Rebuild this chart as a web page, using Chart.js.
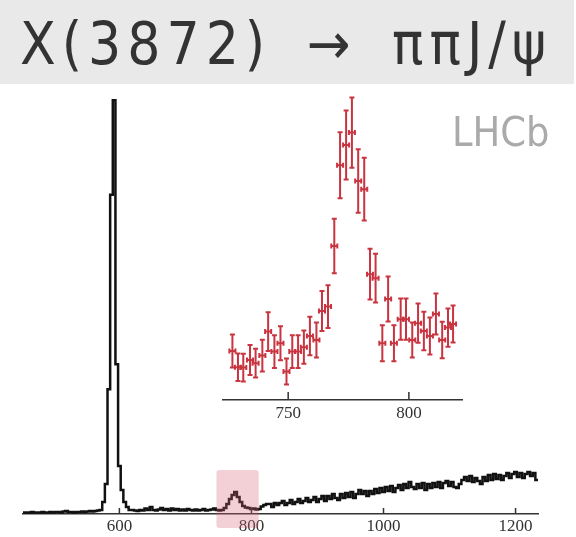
<!DOCTYPE html>
<html>
<head>
<meta charset="utf-8">
<script src="https://cdn.jsdelivr.net/npm/chart.js@4.4.1/dist/chart.umd.min.js"></script>
<style>
  html, body { margin: 0; padding: 0; background: #fff; }
  #wrap { position: relative; width: 576px; height: 537px; overflow: hidden; }
  canvas { position: absolute; left: 0; top: 0; }
  #title {
    position: absolute; left: 0; top: 0; width: 574px; height: 84px;
    background: #e9e9e9; color: #333; box-sizing: border-box;
    padding: 15px 0 0 20px; white-space: nowrap;
    font-family: "DejaVu Sans Condensed", "DejaVu Sans", sans-serif; font-stretch: condensed;
    font-size: 58px; line-height: 58px; letter-spacing: 6px; word-spacing: 13px;
  }
  #lhcb {
    position: absolute; left: 452px; top: 112px; color: #aaa;
    font-family: "DejaVu Sans Condensed", "DejaVu Sans", sans-serif; font-stretch: condensed;
    font-size: 41px; line-height: 41px;
  }
</style>
</head>
<body>
<div id="wrap">
  <canvas id="main" width="576" height="537"></canvas>
  <canvas id="inset" width="576" height="537"></canvas>
  <div id="title">X(3872) → ππJ/ψ</div>
  <div id="lhcb">LHCb</div>
</div>
<script>
// main histogram: m(ππ) in 4 MeV bins starting at 454 MeV
const binLow = 454;
const binWidth = 4;
const counts = [
  1.5, 1.5, 1.5, 2, 1.5, 1.5, 1.5, 2, 1.5, 1.5,
  2, 1.5, 2, 2, 1.5, 2.5, 3, 2, 2, 1.5,
  2, 2, 2.5, 2, 2.5, 3, 2.5, 3, 3.5,
  // peak 570-614
  4, 12, 30, 125, 320, 415, 150, 48, 24, 12, 7, 4,
  // 618-746
  4, 3.5, 3, 4, 3.5, 5.5, 4, 7, 4, 3.5,
  4.5, 6, 4, 5, 3.5, 5.5, 4, 5, 3.5, 4.5,
  3.5, 5, 4, 3.5, 4.5, 3.5, 4, 5, 3.5, 4,
  4.5, 5.5, 4,
  // 750-822
  3.5, 4, 6, 10, 15, 19, 22, 17, 12, 8,
  6.5, 6, 5, 5.5, 4.5, 5, 7.5, 9, 10,
  // 826-1230
  10, 7, 11, 9, 11, 13, 9, 11, 14, 10,
  12, 15, 11, 13, 16, 12, 14, 17, 12, 15,
  18, 13, 18, 15, 20, 16, 14, 20, 16, 21,
  17, 22, 16, 20, 24, 20, 23, 18, 23, 20,
  25, 21, 26, 22, 27, 23, 28, 22, 26, 29,
  24, 30, 26, 32, 27, 25, 30, 26, 31, 24,
  30, 26, 31, 27, 32, 26, 31, 33, 28, 32,
  27, 26, 30, 34, 37, 33, 38, 32, 36, 33,
  30, 37, 33, 39, 34, 40, 35, 39, 34, 38,
  41, 36, 40, 42, 37, 41, 36, 40, 42, 38,
  41, 34
];
const mainTicks = [600, 800, 1000, 1200];
const bandRange = [747, 811];

// inset: zoom on the 775 MeV region
const insetMass = [
  726.9, 729.2, 731.4, 734.2, 736.5, 739.3, 741.7, 744.3, 746.8, 749.3,
  751.7, 754.1, 756.5, 759.0, 761.7, 764.0, 766.5, 769.1, 771.5, 774.0,
  776.4, 779.0, 781.5, 783.9, 786.2, 789.0, 791.4, 793.8, 796.6, 798.8,
  801.4, 803.8, 806.2, 808.7, 811.2, 813.8, 816.2, 818.3
];
const insetCount = [
  24.5, 16.4, 16.2, 20, 18.4, 22.2, 34.2, 24.2, 28.4, 14.2,
  24.2, 24.2, 26.4, 32, 30, 44.5, 46.7, 77, 117.4, 127.5,
  133.7, 109.5, 105.4, 62.9, 60.9, 28.4, 50.5, 28.4, 40.4, 40.4,
  30, 38.4, 34.5, 32, 43, 30, 36.2, 38
];
const insetErr = [
  8.2, 6.9, 6.9, 7.5, 7.2, 7.9, 9.7, 8.2, 8.5, 6.5,
  8.2, 8.2, 8.3, 9.6, 8.8, 10, 10.7, 13.6, 16.5, 17.2,
  17.6, 15.9, 15.7, 12.7, 12.2, 9, 11.3, 9, 10.3, 10.3,
  8.7, 9.8, 9.6, 9.2, 10.3, 9.1, 9.6, 9.3
];
const insetTicks = [750, 800];
const halfBin = 1.25;

const histPoints = counts.map((c, i) => ({ x: binLow + i * binWidth, y: c }));
histPoints.push({ x: binLow + counts.length * binWidth, y: counts[counts.length - 1] });

const serif = '"Liberation Serif", "DejaVu Serif", serif';

function drawTicks(chart, values, len) {
  const { ctx, scales: { x }, chartArea } = chart;
  ctx.save();
  ctx.strokeStyle = '#333';
  ctx.lineWidth = 1.5;
  ctx.beginPath();
  values.forEach(v => {
    const px = x.getPixelForValue(v);
    ctx.moveTo(px, chartArea.bottom);
    ctx.lineTo(px, chartArea.bottom - len);
  });
  ctx.stroke();
  ctx.restore();
}

const mainDecor = {
  id: 'mainDecor',
  afterDatasetsDraw(chart) {
    const { ctx, scales: { x, y } } = chart;
    drawTicks(chart, mainTicks, 6);
    // highlighted region
    const l = x.getPixelForValue(bandRange[0]);
    const r = x.getPixelForValue(bandRange[1]);
    const t = y.getPixelForValue(44);
    const b = y.getPixelForValue(-14);
    ctx.save();
    ctx.fillStyle = 'rgba(212, 100, 118, 0.3)';
    ctx.beginPath();
    ctx.roundRect(l, t, r - l, b - t, 3);
    ctx.fill();
    ctx.restore();
  }
};

const errorBars = {
  id: 'errorBars',
  afterDatasetsDraw(chart) {
    const { ctx, scales: { x, y } } = chart;
    drawTicks(chart, insetTicks, 8);
    ctx.save();
    ctx.strokeStyle = '#c8343f';
    ctx.lineWidth = 2;
    insetMass.forEach((m, i) => {
      const px = x.getPixelForValue(m);
      const py = y.getPixelForValue(insetCount[i]);
      const top = y.getPixelForValue(insetCount[i] + insetErr[i]);
      const bot = y.getPixelForValue(insetCount[i] - insetErr[i]);
      const l = x.getPixelForValue(m - halfBin);
      const r = x.getPixelForValue(m + halfBin);
      ctx.beginPath();
      ctx.moveTo(px, top); ctx.lineTo(px, bot);
      ctx.moveTo(px - 2.5, top); ctx.lineTo(px + 2.5, top);
      ctx.moveTo(px - 2.5, bot); ctx.lineTo(px + 2.5, bot);
      ctx.moveTo(l, py); ctx.lineTo(r, py);
      ctx.moveTo(l, py - 2.5); ctx.lineTo(l, py + 2.5);
      ctx.moveTo(r, py - 2.5); ctx.lineTo(r, py + 2.5);
      ctx.stroke();
    });
    ctx.restore();
  }
};

function xAxis(min, max, ticks, pad) {
  return {
    type: 'linear', min: min, max: max,
    afterBuildTicks: s => { s.ticks = ticks.map(v => ({ value: v })); },
    afterFit: s => { s.height = 23; },
    grid: { display: false, drawTicks: false },
    border: { display: true, color: '#333', width: 1.5 },
    ticks: {
      padding: pad, autoSkip: false, maxRotation: 0, color: '#333',
      font: { family: serif, size: 17 },
      callback: v => String(v)
    }
  };
}

new Chart(document.getElementById('main'), {
  type: 'line',
  data: {
    datasets: [{
      data: histPoints,
      borderColor: '#111',
      borderWidth: 2.5,
      pointRadius: 0,
      stepped: true,
      fill: false
    }]
  },
  options: {
    responsive: false,
    animation: false,
    events: [],
    layout: { padding: { left: 23, right: 38, top: 99, bottom: 0 } },
    plugins: { legend: { display: false }, tooltip: { enabled: false } },
    scales: {
      x: xAxis(454, 1234, mainTicks, 2),
      y: { display: false, min: 0, max: 416 }
    }
  },
  plugins: [mainDecor]
});

new Chart(document.getElementById('inset'), {
  type: 'scatter',
  data: {
    datasets: [{
      data: insetMass.map((m, i) => ({ x: m, y: insetCount[i] })),
      pointRadius: 0,
      showLine: false
    }]
  },
  options: {
    responsive: false,
    animation: false,
    events: [],
    layout: { padding: { left: 223, right: 114, top: 90, bottom: 114 } },
    plugins: { legend: { display: false }, tooltip: { enabled: false } },
    scales: {
      x: xAxis(723, 822, insetTicks, 3),
      y: { display: false, min: 0, max: 155 }
    }
  },
  plugins: [errorBars]
});
</script>
</body>
</html>
